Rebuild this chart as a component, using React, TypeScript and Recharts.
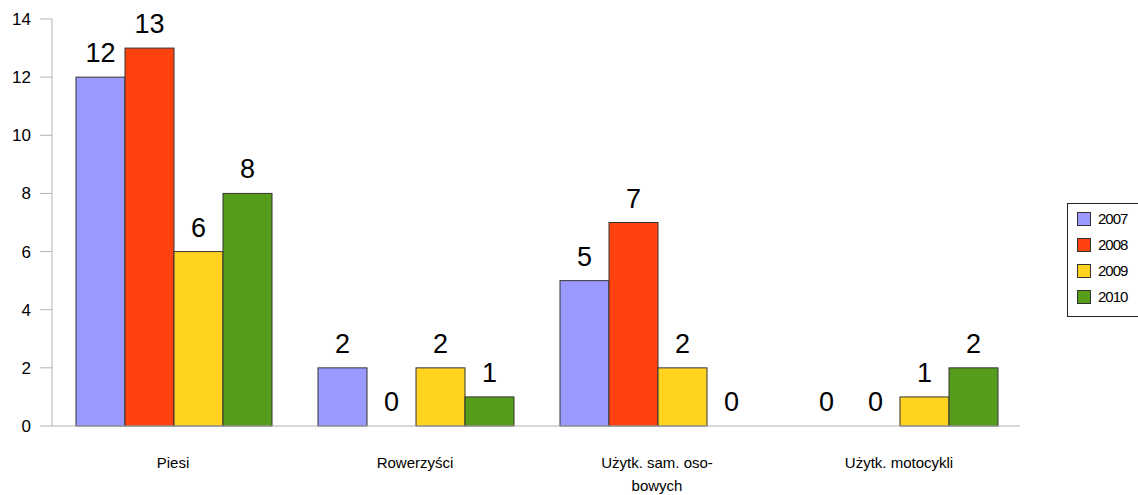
import React from 'react';
import { BarChart, Bar, XAxis, YAxis, LabelList, Legend } from 'recharts';

const categories = ['Piesi', 'Rowerzyści', 'Użytk. sam. oso-|bowych', 'Użytk. motocykli'];
const series2007 = [12, 2, 5, 0];
const series2008 = [13, 0, 7, 0];
const series2009 = [6, 2, 2, 1];
const series2010 = [8, 1, 0, 2];
const yTicks = [0, 2, 4, 6, 8, 10, 12, 14];
const seriesNames = ['2007', '2008', '2009', '2010'];

const colors = ['#9999ff', '#ff420e', '#ffd320', '#579d1c'];
const FONT = '"Liberation Sans", Arial, sans-serif';
const LABEL_SIZE = 27;
const LABEL_GAP = 15;

const data = categories.map((c, i) => ({
  name: c,
  s2007: series2007[i],
  s2008: series2008[i],
  s2009: series2009[i],
  s2010: series2010[i],
  pos: i + 0.5,
}));

const XTick = (props: any) => {
  const { x, y, payload } = props;
  const lines = String(payload.value).split('|');
  return (
    <g>
      {lines.map((l: string, i: number) => (
        <text key={i} x={x} y={y + 34 + i * 23} textAnchor="middle" fontFamily={FONT} fontSize={15} fill="#000">
          {l}
        </text>
      ))}
    </g>
  );
};

const ValueLabel = (props: any) => {
  const { x, y, width, value } = props;
  if (value === undefined || value === null || Number(value) === 0) return null;
  return (
    <text
      x={Number(x) + Number(width) / 2}
      y={Number(y) - LABEL_GAP}
      textAnchor="middle"
      fontFamily={FONT}
      fontSize={LABEL_SIZE}
      fill="#000"
    >
      {value}
    </text>
  );
};

const makeShape = (key: string) => (props: any) => {
  const { x, y, width, height, fill, stroke, payload } = props;
  const v = payload ? payload[key] : undefined;
  const h = Number(height) || 0;
  return (
    <g>
      {h > 0 && (
        <rect x={x} y={y} width={width} height={h} fill={fill} stroke={stroke} strokeWidth={1} />
      )}
      {v === 0 && (
        <text
          x={Number(x) + Number(width) / 2}
          y={Number(y) + h - LABEL_GAP}
          textAnchor="middle"
          fontFamily={FONT}
          fontSize={LABEL_SIZE}
          fill="#000"
        >
          0
        </text>
      )}
    </g>
  );
};

const LegendContent = () => (
  <div
    style={{
      width: 80,
      height: 114,
      border: '1px solid #222',
      boxSizing: 'border-box',
      background: '#fff',
      position: 'relative',
      fontFamily: FONT,
    }}
  >
    {seriesNames.map((n, i) => (
      <div key={n} style={{ position: 'absolute', left: 9, top: 8 + i * 26, display: 'flex', alignItems: 'center' }}>
        <div style={{ width: 14, height: 14, background: colors[i], border: '1px solid #333', boxSizing: 'border-box' }} />
        <span style={{ marginLeft: 7, fontSize: 15, letterSpacing: -1, color: '#000', lineHeight: '14px' }}>{n}</span>
      </div>
    ))}
  </div>
);

const keys = ['s2007', 's2008', 's2009', 's2010'];

export default function App() {
  return (
    <div style={{ position: 'absolute', left: 0, top: 0, width: 1138, height: 495, background: '#fff', overflow: 'hidden' }}>
      <BarChart
        width={1138}
        height={495}
        data={data}
        margin={{ top: 19, right: 118, left: 0, bottom: 0 }}
        barCategoryGap={24}
        barGap={0}
      >
        <XAxis
          xAxisId="cat"
          dataKey="name"
          height={69}
          axisLine={{ stroke: '#b3b3b3' }}
          tickLine={false}
          tick={<XTick />}
          interval={0}
        />
        <XAxis
          xAxisId="num"
          type="number"
          dataKey="pos"
          domain={[0, 4]}
          ticks={[0, 1, 2, 3, 4]}
          height={0}
          axisLine={false}
          tickLine={{ stroke: '#b3b3b3' }}
          tickSize={10}
          tick={false}
          orientation="bottom"
        />
        <YAxis
          width={52}
          domain={[0, 14]}
          ticks={yTicks}
          interval={0}
          axisLine={{ stroke: '#b3b3b3' }}
          tickLine={{ stroke: '#b3b3b3' }}
          tickSize={12}
          tickMargin={9}
          tick={{ fontFamily: FONT, fontSize: 17, fill: '#000' }}
        />
        <Legend
          layout="vertical"
          content={<LegendContent />}
          wrapperStyle={{ position: 'absolute', left: 1067, top: 203, width: 0, height: 0, overflow: 'visible' }}
        />
        {keys.map((k, i) => (
          <Bar
            key={k}
            xAxisId="cat"
            dataKey={k}
            name={seriesNames[i]}
            fill={colors[i]}
            stroke="#333"
            strokeWidth={1}
            shape={makeShape(k)}
            isAnimationActive={false}
          >
            <LabelList dataKey={k} content={<ValueLabel />} />
          </Bar>
        ))}
      </BarChart>
    </div>
  );
}
